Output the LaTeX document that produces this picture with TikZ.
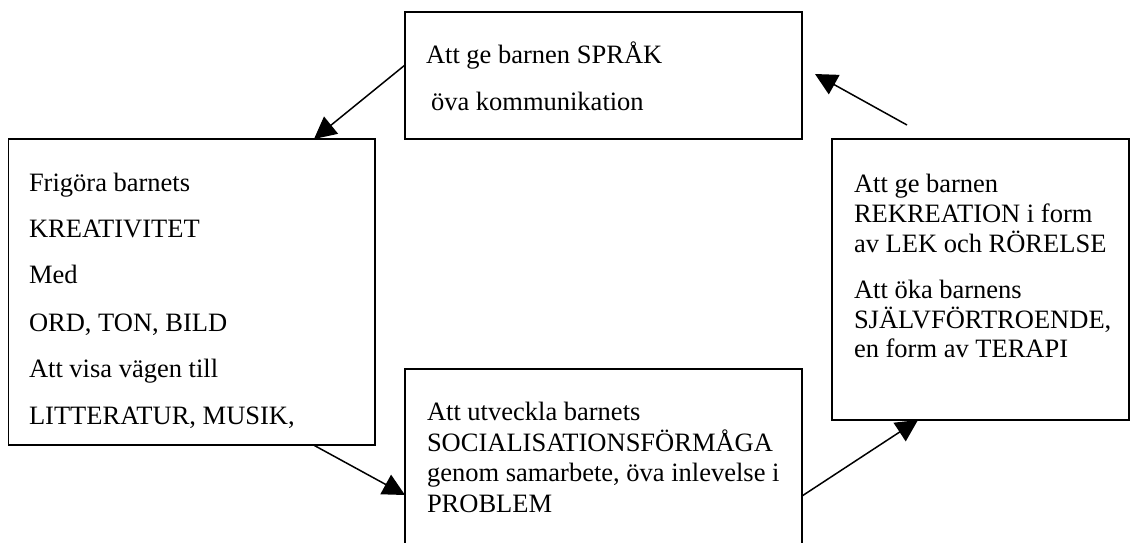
\documentclass[tikz,border=0pt]{standalone}
\usepackage{fontspec}
\setmainfont{Liberation Serif}
\usetikzlibrary{arrows.meta,calc}
\begin{document}
\begin{tikzpicture}[x=0.5pt,y=-0.5pt,
  box/.style={draw=black, line width=0.8pt, inner sep=0pt, outer sep=0pt},
  txt/.style={anchor=base west, inner sep=0pt, outer sep=0pt, font=\fontsize{13.25pt}{15.25pt}\selectfont},
  conn/.style={line width=0.75pt, -{Triangle[length=11pt,width=11pt]}}]
\useasboundingbox (0,0) rectangle (1130,542);
\clip (0,0) rectangle (1130,542);
\fill[white] (0,0) rectangle (1130,542);
% boxes
\node[box, minimum width=198.5pt, minimum height=63.5pt] (top) at (603.5,75.5) {};
\node[box, minimum width=183.25pt, minimum height=153pt] (left) at (191.75,292) {};
\node[box, minimum width=148.5pt, minimum height=140.5pt] (right) at (980.5,279.5) {};
\node[box, minimum width=198.5pt, minimum height=95.5pt] (bot) at (603.5,464.5) {};
% top box text
\node[txt] (ta) at (426,63) {Att ge barnen SPRÅK};
\node[txt] (tb) at (431,110) {öva kommunikation};
% left box text
\node[txt] (la) at (29,191) {Frigöra barnets};
\node[txt] (lb) at (29,237) {KREATIVITET};
\node[txt] (lc) at (29,283) {Med};
\node[txt] (ld) at (29,331) {ORD, TON, BILD};
\node[txt] (le) at (29,377) {Att visa vägen till};
\node[txt] (lf) at (29,424) {LITTERATUR, MUSIK,};
% right box text
\node[txt] (ra) at (854,192) {Att ge barnen};
\node[txt] (rb) at (854,222) {REKREATION i form};
\node[txt] (rc) at (854,252) {av LEK och RÖRELSE};
\node[txt] (rd) at (854,298) {Att öka barnens};
\node[txt] (re) at (854,328) {SJÄLVFÖRTROENDE,};
\node[txt] (rf) at (854,357) {en form av TERAPI};
% bottom box text
\node[txt] (ba) at (427,420) {Att utveckla barnets};
\node[txt] (bb) at (427,451) {SOCIALISATIONSFÖRMÅGA};
\node[txt] (bc) at (427,481) {genom samarbete, öva inlevelse i};
\node[txt] (bd) at (427,512) {PROBLEM};
% connectors
\draw[conn] ($(top.north west)+(0,53)$) -- ($(left.north west)+(305.5,0)$);
\draw[conn] ($(left.south west)+(305,0)$) -- ($(bot.north west)+(0,126)$);
\draw[conn] ($(bot.north east)+(0,127)$) -- ($(right.south west)+(86,0)$);
\coordinate (rs) at ($(right.north west)+(75,-14)$);
\draw[conn] (rs) -- ($(top.east)+(13,-1.5)$);
\end{tikzpicture}
\end{document}
